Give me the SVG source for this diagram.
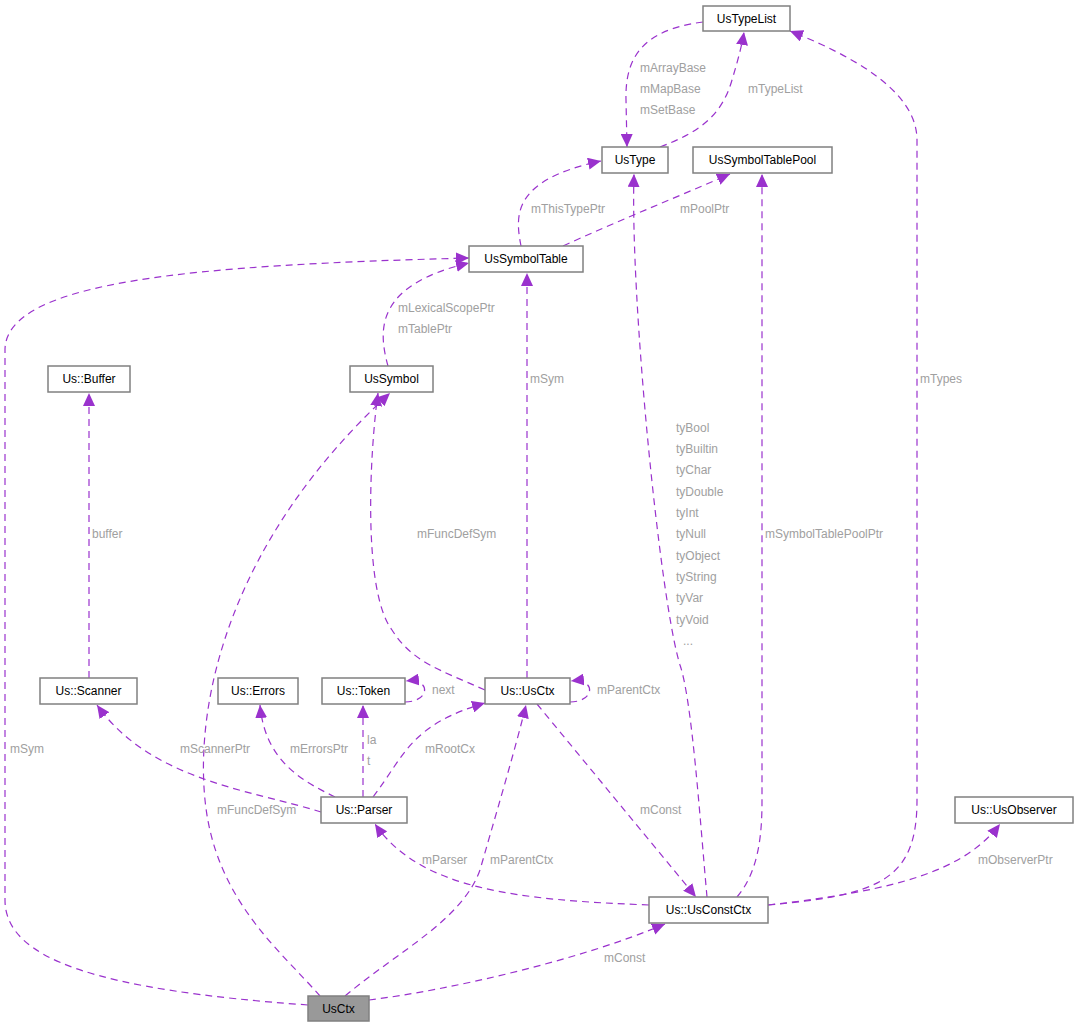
<svg xmlns="http://www.w3.org/2000/svg" width="1078" height="1027" viewBox="0 0 1078 1027">
<style>
.n rect{fill:#fff;stroke:#808080;stroke-width:1.5}
.n text{font-family:"Liberation Sans",Arial,sans-serif;font-size:12px;fill:#000;text-anchor:middle}
.e path{fill:none;stroke:#9a32cd;stroke-width:1.2;stroke-dasharray:7,5;marker-end:url(#ah)}
.l{font-family:"Liberation Sans",Arial,sans-serif;font-size:12px;fill:#a0a0a0}
</style>
<defs><marker id="ah" markerUnits="userSpaceOnUse" markerWidth="14" markerHeight="12" refX="13" refY="6" orient="auto"><path d="M0,0 L13,6 L0,12 z" fill="#9a32cd"/></marker></defs>
<rect width="1078" height="1027" fill="#fff"/>
<g class="e">
<path d="M660,147 C700,132 722,115 732,80 C738,60 742,45 744,32"/>
<path d="M703,22 C640,30 625,60 626,100 L627,147"/>
<path d="M521,246 C515,215 512,180 601,161"/>
<path d="M563,246 C620,220 670,200 730,174"/>
<path d="M388,366 C378,330 375,285 469,263"/>
<path d="M308,1005 C100,990 5,960 5,900 L5,350 C5,280 200,265 469,258"/>
<path d="M527,678 L527,273"/>
<path d="M485,690 C440,670 412,662 392,630 C362,590 370,450 378,393"/>
<path d="M320,996 C280,950 215,900 205,800 C195,700 230,540 390,393"/>
<path d="M89,678 L89,393"/>
<path d="M321,812 C250,790 150,780 97,705"/>
<path d="M335,797 C300,780 265,760 260,705"/>
<path d="M363,797 L363,705"/>
<path d="M373,797 C405,755 410,725 485,703"/>
<path d="M405,702 C430,702 432,678 406,681"/>
<path d="M570,702 C595,702 597,678 571,681"/>
<path d="M537,704 L696,897"/>
<path d="M707,897 C700,820 692,700 680,665 C660,600 630,300 634,174"/>
<path d="M737,897 C760,870 762,830 762,800 L762,174"/>
<path d="M768,905 C880,895 917,880 917,800 L917,140 C917,90 850,55 790,31"/>
<path d="M649,905 C520,900 420,890 375,824"/>
<path d="M768,905 C900,890 965,870 1000,824"/>
<path d="M369,1000 C450,990 580,960 665,924"/>
<path d="M345,996 C400,950 462,920 480,870 C500,800 515,750 526,705"/>
</g>
<g class="n" id="UsTypeList"><rect x="703" y="6" width="87" height="25"/><text x="746.5" y="23">UsTypeList</text></g>
<g class="n" id="UsType"><rect x="602" y="147" width="66" height="26"/><text x="635" y="164">UsType</text></g>
<g class="n" id="UsSymbolTablePool"><rect x="693" y="147" width="139" height="26"/><text x="762.5" y="164">UsSymbolTablePool</text></g>
<g class="n" id="UsSymbolTable"><rect x="469" y="246" width="114" height="26"/><text x="526" y="263">UsSymbolTable</text></g>
<g class="n" id="Buffer"><rect x="48" y="366" width="82" height="26"/><text x="89" y="383">Us::Buffer</text></g>
<g class="n" id="UsSymbol"><rect x="350" y="366" width="83" height="26"/><text x="391.5" y="383">UsSymbol</text></g>
<g class="n" id="Scanner"><rect x="40" y="678" width="97" height="26"/><text x="88.5" y="695">Us::Scanner</text></g>
<g class="n" id="Errors"><rect x="218" y="678" width="80" height="26"/><text x="258" y="695">Us::Errors</text></g>
<g class="n" id="Token"><rect x="322" y="678" width="83" height="26"/><text x="363.5" y="695">Us::Token</text></g>
<g class="n" id="UsCtxNS"><rect x="485" y="678" width="85" height="26"/><text x="527.5" y="695">Us::UsCtx</text></g>
<g class="n" id="Parser"><rect x="321" y="797" width="86" height="26"/><text x="364" y="814">Us::Parser</text></g>
<g class="n" id="UsObserver"><rect x="955" y="797" width="118" height="26"/><text x="1014" y="814">Us::UsObserver</text></g>
<g class="n" id="UsConstCtx"><rect x="649" y="897" width="119" height="26"/><text x="708.5" y="914">Us::UsConstCtx</text></g>
<g class="n" id="UsCtx"><rect x="308" y="996" width="61" height="25" style="fill:#999"/><text x="338.5" y="1013">UsCtx</text></g>
<g class="l">
<text x="640" y="72">mArrayBase</text><text x="640" y="93">mMapBase</text><text x="640" y="114">mSetBase</text>
<text x="748" y="93">mTypeList</text>
<text x="531" y="213">mThisTypePtr</text><text x="680" y="213">mPoolPtr</text>
<text x="398" y="312">mLexicalScopePtr</text><text x="398" y="333">mTablePtr</text>
<text x="530" y="383">mSym</text><text x="920" y="383">mTypes</text>
<text x="676" y="432">tyBool</text><text x="676" y="453">tyBuiltin</text><text x="676" y="474">tyChar</text><text x="676" y="496">tyDouble</text><text x="676" y="517">tyInt</text><text x="676" y="538">tyNull</text><text x="676" y="560">tyObject</text><text x="676" y="581">tyString</text><text x="676" y="602">tyVar</text><text x="676" y="624">tyVoid</text><text x="683" y="645">...</text>
<text x="92" y="538">buffer</text><text x="417" y="538">mFuncDefSym</text><text x="765" y="538">mSymbolTablePoolPtr</text>
<text x="432" y="694">next</text><text x="597" y="694">mParentCtx</text>
<text x="10" y="753">mSym</text><text x="180" y="753">mScannerPtr</text><text x="290" y="753">mErrorsPtr</text><text x="367" y="744">la</text><text x="367" y="765">t</text><text x="425" y="753">mRootCx</text>
<text x="217" y="814">mFuncDefSym</text><text x="640" y="814">mConst</text>
<text x="422" y="864">mParser</text><text x="490" y="864">mParentCtx</text><text x="978" y="864">mObserverPtr</text>
<text x="604" y="962">mConst</text>
</g>
</svg>
